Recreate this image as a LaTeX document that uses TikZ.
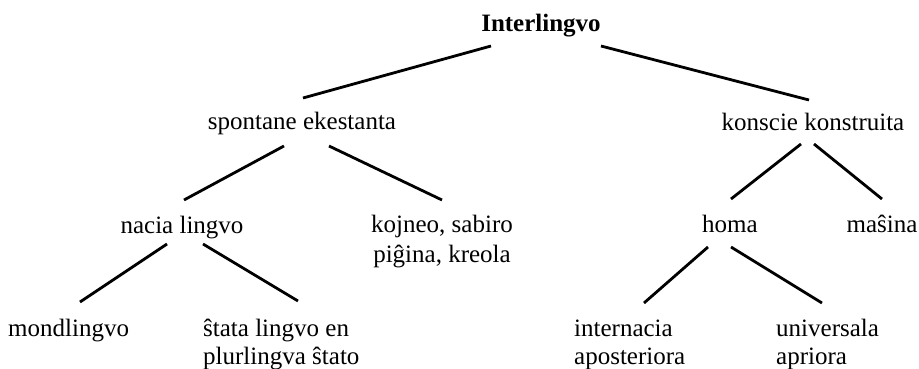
\documentclass[tikz,border=0pt]{standalone}
\usepackage{fontspec}
\setmainfont{Liberation Serif}
\begin{document}
\begin{tikzpicture}[x=1pt,y=-1pt,
  lbl/.style={inner sep=0pt,font=\fontsize{25}{30}\selectfont,align=center},
  lbll/.style={inner sep=0pt,font=\fontsize{25}{28}\selectfont,align=left},
  edge/.style={line width=2.8pt,black}]
\useasboundingbox (0,0) rectangle (919,369);
% nodes (multi-line nodes: base = baseline of last line)
\node[lbl,anchor=base,font=\fontsize{25}{30}\selectfont\bfseries] (inter) at (541,32) {Interlingvo};
\node[lbl,anchor=base] (spont) at (302,129) {spontane ekestanta};
\node[lbl,anchor=base] (konsc) at (813,130) {konscie konstruita};
\node[lbl,anchor=base] (nacia) at (182,233) {nacia lingvo};
\node[lbl,anchor=base] (kojn) at (442,262) {kojneo, sabiro\\pi\^gina, kreola};
\node[lbl,anchor=base] (homa) at (730,232) {homa};
\node[lbl,anchor=base] (masin) at (882,232) {ma\^sina};
\node[lbll,anchor=base west] (mond) at (8,336) {mondlingvo};
\node[lbll,anchor=base west] (stata) at (203,364) {\^stata lingvo en\\plurlingva \^stato};
\node[lbll,anchor=base west] (intern) at (574,364) {internacia\\aposteriora};
\node[lbll,anchor=base west] (univ) at (776,364) {universala\\apriora};
% connector end points
\coordinate (inter-l) at (491,46);
\coordinate (inter-r) at (601,46);
\coordinate (spont-t) at (303,98);
\coordinate (konsc-t) at (809,100);
\coordinate (spont-l) at (284,146);
\coordinate (spont-r) at (329,146);
\coordinate (nacia-t) at (184,200);
\coordinate (kojn-t) at (442,200);
\coordinate (nacia-l) at (167,244);
\coordinate (nacia-r) at (203,244);
\coordinate (mond-t) at (80,302);
\coordinate (stata-t) at (298,301);
\coordinate (konsc-l) at (801,144);
\coordinate (konsc-r) at (814,144);
\coordinate (homa-t) at (731,199);
\coordinate (masin-t) at (882,199);
\coordinate (homa-l) at (708,247);
\coordinate (homa-r) at (731,247);
\coordinate (intern-t) at (644,303);
\coordinate (univ-t) at (822,303);
% connectors
\draw[edge] (inter-l) -- (spont-t);
\draw[edge] (inter-r) -- (konsc-t);
\draw[edge] (spont-l) -- (nacia-t);
\draw[edge] (spont-r) -- (kojn-t);
\draw[edge] (nacia-l) -- (mond-t);
\draw[edge] (nacia-r) -- (stata-t);
\draw[edge] (konsc-l) -- (homa-t);
\draw[edge] (konsc-r) -- (masin-t);
\draw[edge] (homa-l) -- (intern-t);
\draw[edge] (homa-r) -- (univ-t);
\end{tikzpicture}
\end{document}
